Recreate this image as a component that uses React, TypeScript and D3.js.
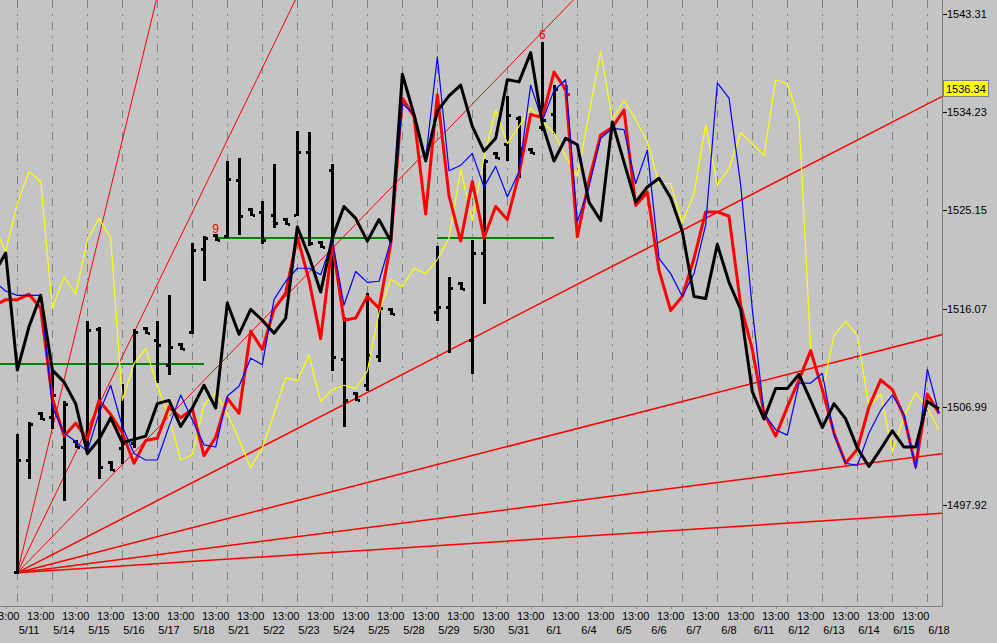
import React from 'react';
import * as d3 from 'd3';

const W = 997;
const H = 643;
const PLOT_R = 942;
const PLOT_B = 606;

const dates = ['5/11','5/14','5/15','5/16','5/17','5/18','5/21','5/22','5/23','5/24','5/25','5/28','5/29','5/30','5/31','6/1','6/4','6/5','6/6','6/7','6/8','6/11','6/12','6/13','6/14','6/15','6/18'];
const timeLabel = '13:00';
const yTicks = [1543.31, 1534.23, 1525.15, 1516.07, 1506.99, 1497.92];
const lastPrice = 1536.34;

// series start at bar index -1 (one bar left of the visible area)
const FIRST_INDEX = -1;
const blackLine = [1519.3, 1521.2, 1510.4, 1514.4, 1517.3, 1510.4, 1509.3, 1507.3, 1502.7, 1504.0, 1506.0, 1503.7, 1504.0, 1504.3, 1507.3, 1507.6, 1505.2, 1506.9, 1509.0, 1506.9, 1516.6, 1513.7, 1516.0, 1515.0, 1513.8, 1515.2, 1523.6, 1520.9, 1517.6, 1522.6, 1525.5, 1524.4, 1522.3, 1524.3, 1522.3, 1537.7, 1534.0, 1529.7, 1534.3, 1535.7, 1536.7, 1532.9, 1530.6, 1531.8, 1537.2, 1537.0, 1539.7, 1533.1, 1529.7, 1531.8, 1531.2, 1525.9, 1524.2, 1533.3, 1529.6, 1525.9, 1527.3, 1528.1, 1526.3, 1523.2, 1517.2, 1517.0, 1522.0, 1518.5, 1516.0, 1508.4, 1505.9, 1508.7, 1508.7, 1510.0, 1507.6, 1505.1, 1507.3, 1505.9, 1503.2, 1501.5, 1503.1, 1504.8, 1503.3, 1503.3, 1507.5, 1506.8];
const redLine = [1516.3, 1516.9, 1516.9, 1517.4, 1516.1, 1507.8, 1504.3, 1505.5, 1504.0, 1507.6, 1506.3, 1504.6, 1501.8, 1503.9, 1504.1, 1507.0, 1506.0, 1506.8, 1502.5, 1504.2, 1507.8, 1506.4, 1514.0, 1512.3, 1516.0, 1517.5, 1522.7, 1518.7, 1513.3, 1522.1, 1515.0, 1515.2, 1517.2, 1516.1, 1522.0, 1535.5, 1533.8, 1524.8, 1535.8, 1526.5, 1522.3, 1527.8, 1522.6, 1525.5, 1524.3, 1528.5, 1534.0, 1533.7, 1537.9, 1536.3, 1522.7, 1527.9, 1532.1, 1532.8, 1534.4, 1525.6, 1526.8, 1519.6, 1515.9, 1517.2, 1520.7, 1525.0, 1525.0, 1524.6, 1516.4, 1512.3, 1506.4, 1504.3, 1507.0, 1509.5, 1512.2, 1508.6, 1504.6, 1501.8, 1503.1, 1507.0, 1509.5, 1508.6, 1506.1, 1501.5, 1508.2, 1506.4];
const blueLine = [1518.6, 1517.7, 1517.3, 1517.3, 1517.3, 1507.0, 1504.6, 1503.8, 1502.9, 1506.4, 1509.0, 1505.2, 1502.7, 1502.1, 1502.1, 1505.2, 1508.1, 1505.8, 1503.5, 1503.3, 1508.0, 1508.9, 1511.5, 1510.9, 1516.9, 1518.6, 1519.8, 1519.8, 1519.2, 1522.3, 1516.4, 1519.5, 1518.5, 1518.6, 1522.3, 1535.0, 1534.0, 1529.9, 1539.3, 1528.8, 1529.3, 1530.4, 1527.3, 1529.2, 1526.4, 1528.7, 1536.7, 1533.4, 1536.2, 1537.2, 1524.1, 1527.3, 1531.8, 1532.7, 1532.6, 1527.6, 1530.7, 1520.7, 1519.3, 1517.2, 1519.3, 1523.8, 1536.9, 1535.5, 1527.5, 1516.0, 1506.4, 1504.9, 1504.4, 1509.2, 1509.2, 1510.1, 1504.4, 1501.8, 1501.6, 1504.6, 1506.7, 1508.1, 1506.3, 1501.3, 1510.5, 1506.4];
const yellowLine = [1523.8, 1521.3, 1525.8, 1528.7, 1527.8, 1516.1, 1519.0, 1517.4, 1522.4, 1524.4, 1522.6, 1507.6, 1511.0, 1512.4, 1508.9, 1506.1, 1502.1, 1502.6, 1507.2, 1508.3, 1506.4, 1504.0, 1501.4, 1503.2, 1506.4, 1509.7, 1509.4, 1511.8, 1507.5, 1508.6, 1509.0, 1508.7, 1510.3, 1515.7, 1518.8, 1518.1, 1519.8, 1519.3, 1520.6, 1522.6, 1528.9, 1524.2, 1530.0, 1534.4, 1531.3, 1532.9, 1534.6, 1533.3, 1532.3, 1530.1, 1528.3, 1534.0, 1539.8, 1533.5, 1535.3, 1533.5, 1531.5, 1527.6, 1527.6, 1524.0, 1526.7, 1533.0, 1527.5, 1529.0, 1532.3, 1531.3, 1530.2, 1537.2, 1536.8, 1533.6, 1512.3, 1508.4, 1513.6, 1514.9, 1513.6, 1507.0, 1508.2, 1502.9, 1506.1, 1508.3, 1506.9, 1504.9];

// price bars (OHLC)
const barIndex = [1, 2, 3, 4, 5, 6, 7, 8, 9, 10, 11, 12, 13, 14, 15, 16, 17, 18, 19, 20, 21, 22, 23, 24, 25, 26, 27, 28, 29, 30, 31, 32, 33, 37, 38, 39, 40, 41, 42, 43, 44, 45, 46, 47];
const barHigh = [1504.4, 1505.5, 1506.4, 1510.4, 1507.5, 1503.9, 1514.8, 1514.3, 1501.9, 1509.0, 1514.1, 1514.3, 1514.8, 1517.2, 1512.8, 1522.0, 1522.7, 1522.9, 1529.6, 1529.9, 1525.3, 1525.9, 1529.3, 1524.3, 1532.4, 1532.3, 1522.2, 1529.3, 1515.2, 1508.3, 1517.4, 1516.2, 1516.0, 1521.8, 1518.9, 1518.4, 1522.3, 1529.8, 1530.4, 1535.6, 1533.8, 1530.8, 1540.6, 1536.6];
const barLow = [1491.7, 1500.4, 1505.9, 1505.1, 1498.4, 1503.3, 1503.2, 1500.4, 1501.2, 1501.8, 1503.3, 1513.8, 1509.3, 1510.0, 1512.3, 1513.8, 1518.7, 1522.4, 1522.7, 1523.0, 1524.7, 1522.1, 1523.6, 1523.9, 1524.7, 1521.9, 1521.8, 1510.4, 1505.2, 1507.6, 1508.6, 1511.2, 1515.6, 1515.0, 1512.1, 1517.9, 1510.1, 1516.6, 1530.0, 1529.8, 1528.2, 1530.4, 1532.6, 1532.3];
const barOpen = [1491.8, 1502.1, 1506.4, 1506.1, 1503.3, 1503.9, 1504.0, 1514.2, 1501.9, 1503.2, 1503.7, 1514.3, 1513.2, 1510.9, 1512.8, 1513.9, 1521.6, 1522.9, 1522.8, 1527.9, 1525.3, 1525.0, 1524.7, 1524.3, 1524.7, 1530.5, 1522.2, 1528.9, 1511.4, 1508.3, 1509.0, 1511.7, 1516.0, 1515.8, 1516.2, 1518.4, 1513.2, 1521.2, 1530.4, 1531.3, 1533.7, 1530.8, 1532.8, 1534.0];
const barClose = [1502.1, 1505.4, 1505.9, 1508.1, 1507.3, 1503.3, 1514.1, 1501.5, 1501.2, 1503.7, 1513.9, 1513.8, 1512.7, 1512.5, 1512.3, 1521.5, 1522.6, 1522.4, 1528.0, 1524.6, 1524.7, 1522.4, 1524.0, 1523.9, 1530.5, 1522.1, 1521.8, 1511.6, 1507.6, 1507.6, 1511.8, 1516.1, 1515.6, 1516.2, 1518.0, 1517.9, 1521.2, 1529.7, 1530.0, 1533.9, 1530.9, 1530.4, 1533.5, 1536.3];

// last (current) bar drawn in red
const lastBar = { index: 48, high: 1536.6, low: 1535.9, open: 1536.4, close: 1535.9 };

// Gann fan
const fanOriginIndex = 1;
const fanOriginValue = 1491.7;
const fanUnit = 1.109;
const fanRatios = [4, 2, 1, 0.5, 0.25, 0.125, 0.0625];

// horizontal green lines
const greenFrom = [18, 37, -1];
const greenTo = [33, 47, 17];
const greenValue = [1522.71, 1522.71, 1511.06];

// red count markers
const markerIndex = [18, 46];
const markerText = ['9', '6'];
const markerValue = [1522.71, 1540.6];

const FONT = '"Liberation Sans", Arial, sans-serif';

export default function App() {
  const x = d3.scaleLinear().domain([0, 80]).range([5.67, 939]);
  const y = d3.scaleLinear().domain([1497.92, 1543.31]).range([505.3, 13.5]);

  const line = d3
    .line<number>()
    .x((_, i) => x(i + FIRST_INDEX))
    .y((d) => y(d));

  const gridIdx = d3.range(1, 80, 3);
  const labelIdx = d3.range(0, dates.length);

  const fanEnd = 100;

  const bar = (k: number, hi: number, lo: number, op: number, cl: number, color: string, key: string) => {
    const cx = Math.round(x(k));
    const yh = Math.round(y(hi));
    const yl = Math.round(y(lo));
    const yo = Math.round(y(op));
    const yc = Math.round(y(cl));
    return (
      <g key={key} fill={color} shapeRendering="crispEdges">
        <rect x={cx - 1} y={yh - 1} width={3} height={Math.max(3, yl - yh + 2)} />
        <rect x={cx - 3} y={yo - 1} width={2} height={3} />
        <rect x={cx + 2} y={yc - 1} width={2} height={3} />
      </g>
    );
  };

  return (
    <svg
      width={W}
      height={H}
      style={{ position: 'absolute', left: 0, top: 0, display: 'block' }}
      fontFamily={FONT}
    >
      <defs>
        <clipPath id="plot">
          <rect x={0} y={0} width={PLOT_R} height={PLOT_B} />
        </clipPath>
      </defs>
      <rect x={0} y={0} width={W} height={H} fill="#c4c4c4" />

      {/* vertical dash-dot grid */}
      <g stroke="#808080" strokeWidth={1} strokeDasharray="8,6,2,6" shapeRendering="crispEdges">
        {gridIdx.map((k) => (
          <line key={k} x1={Math.round(x(k)) + 0.5} x2={Math.round(x(k)) + 0.5} y1={0} y2={PLOT_B} />
        ))}
      </g>

      <g clipPath="url(#plot)">
        {/* Gann fan */}
        {fanRatios.map((r, i) => (
          <line
            key={i}
            x1={x(fanOriginIndex)}
            y1={y(fanOriginValue)}
            x2={x(fanEnd)}
            y2={y(fanOriginValue + r * fanUnit * (fanEnd - fanOriginIndex))}
            stroke="#ff0000"
            strokeWidth={r >= 1 ? 1 : 1.5}
          />
        ))}

        {/* green levels */}
        {greenValue.map((v, i) => (
          <rect
            key={i}
            x={x(greenFrom[i])}
            width={x(greenTo[i]) - x(greenFrom[i])}
            y={Math.round(y(v))}
            height={1.5}
            fill="#008000"
            shapeRendering="crispEdges"
          />
        ))}

        {/* price bars */}
        {barIndex.map((k, i) => bar(k, barHigh[i], barLow[i], barOpen[i], barClose[i], '#000000', 'b' + i))}
        {bar(lastBar.index, lastBar.high, lastBar.low, lastBar.open, lastBar.close, '#ff0000', 'last')}

        {/* indicator lines */}
        <path d={line(yellowLine) || ''} fill="none" stroke="#ffff00" strokeWidth={1.2} strokeLinejoin="round" />
        <path d={line(redLine) || ''} fill="none" stroke="#ff0000" strokeWidth={3} strokeLinejoin="round" />
        <path d={line(blueLine) || ''} fill="none" stroke="#0000ff" strokeWidth={1.2} strokeLinejoin="round" />
        <path d={line(blackLine) || ''} fill="none" stroke="#000000" strokeWidth={3} strokeLinejoin="round" />

        {/* count markers */}
        {markerIndex.map((k, i) => (
          <text
            key={i}
            x={x(k)}
            y={y(markerValue[i]) - 4}
            fill="#ff0000"
            fontSize={12}
            textAnchor="middle"
          >
            {markerText[i]}
          </text>
        ))}
      </g>

      {/* axes frame */}
      <g stroke="#808080" strokeWidth={1} shapeRendering="crispEdges">
        <line x1={PLOT_R + 0.5} x2={PLOT_R + 0.5} y1={0} y2={PLOT_B + 1} />
        <line x1={0} x2={PLOT_R + 1} y1={PLOT_B + 0.5} y2={PLOT_B + 0.5} />
        {labelIdx.map((i) => (
          <line key={i} x1={Math.round(x(3 * i)) + 0.5} x2={Math.round(x(3 * i)) + 0.5} y1={PLOT_B} y2={PLOT_B + 3} />
        ))}
      </g>
      <g stroke="#000000" strokeWidth={1} shapeRendering="crispEdges">
        {yTicks.map((v) => (
          <line key={v} x1={PLOT_R + 1} x2={PLOT_R + 5} y1={Math.round(y(v)) + 0.5} y2={Math.round(y(v)) + 0.5} />
        ))}
      </g>

      {/* y labels */}
      <g fontSize={11} fill="#000000">
        {yTicks.map((v) => (
          <text key={v} x={947} y={y(v)} dominantBaseline="central">
            {v.toFixed(2)}
          </text>
        ))}
      </g>

      {/* last price badge */}
      <rect
        x={943.5}
        y={Math.round(y(lastPrice)) - 8.5}
        width={45}
        height={16}
        fill="#ffff00"
        stroke="#808080"
        shapeRendering="crispEdges"
      />
      <text x={946} y={y(lastPrice)} fontSize={11} dominantBaseline="central" fill="#000000">
        {lastPrice.toFixed(2)}
      </text>

      {/* x labels */}
      <g fontSize={11} fill="#000000" textAnchor="middle">
        {labelIdx.map((i) => (
          <text key={'t' + i} x={x(3 * i)} y={620}>
            {timeLabel}
          </text>
        ))}
        {dates.map((d, i) => (
          <text key={'d' + i} x={x(3 * i + 2)} y={634}>
            {d}
          </text>
        ))}
      </g>
    </svg>
  );
}
